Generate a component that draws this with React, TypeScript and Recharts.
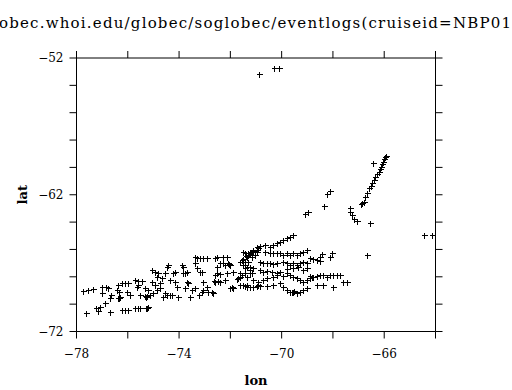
import { ScatterChart, Scatter, XAxis, YAxis } from 'recharts';

const title = 'obec.whoi.edu/globec/soglobec/eventlogs(cruiseid=NBP01';

const lonTicks = [-78, -76, -74, -72, -70, -68, -66, -64];
const lonLabels = [-78, -74, -70, -66];
const latTicks = [-72, -70, -68, -66, -64, -62, -60, -58, -56, -54, -52];
const latLabels = [-72, -62, -52];

// western part of the track, off the peninsula
const westGroup: [number, number][] = [
  [-77.73, -69.01], [-77.54, -68.96], [-77.37, -68.91], [-77.02, -68.76], [-76.85, -68.76],
  [-76.76, -68.83], [-77.63, -70.62], [-77.24, -70.30], [-77.15, -70.47], [-77.08, -70.18],
  [-76.89, -69.93], [-76.69, -69.57], [-76.65, -69.32], [-76.69, -70.55], [-76.41, -68.96],
  [-76.37, -68.59], [-77.02, -69.20], [-76.24, -70.42], [-76.11, -70.42], [-76.0, -70.42],
  [-75.72, -70.30], [-75.59, -70.30], [-75.52, -70.30], [-75.24, -70.30], [-75.20, -70.22],
  [-75.28, -70.26], [-76.33, -69.08], [-76.24, -68.47], [-76.11, -68.43], [-75.98, -68.43],
  [-76.37, -69.57], [-76.30, -69.49], [-76.34, -69.52], [-76.04, -69.08], [-75.91, -69.32],
  [-75.72, -68.23], [-75.61, -68.30], [-75.46, -68.30], [-75.65, -68.72], [-75.59, -68.59],
  [-75.33, -68.83], [-75.20, -68.96], [-75.52, -69.32], [-75.33, -69.40], [-75.24, -69.40],
  [-75.28, -69.45], [-75.13, -69.32], [-75.0, -69.20], [-75.07, -68.35], [-74.94, -68.59],
  [-74.87, -68.96], [-74.74, -68.83], [-75.07, -67.50], [-74.94, -67.62], [-74.81, -67.74],
  [-74.87, -67.99], [-74.68, -68.10], [-74.74, -68.47],
];

const centralGroup: [number, number][] = [
  [-74.55, -67.74], [-74.48, -67.26], [-74.42, -67.13], [-74.55, -69.20], [-74.48, -69.32],
  [-74.61, -69.45], [-74.35, -69.32], [-74.29, -69.32], [-74.23, -67.74], [-74.16, -67.62],
  [-74.35, -68.23], [-74.16, -68.35], [-74.09, -68.72], [-74.03, -69.45], [-73.90, -67.13],
  [-73.83, -67.26], [-73.83, -67.74], [-73.77, -67.74], [-73.70, -68.35], [-73.64, -68.43],
  [-73.77, -68.83], [-73.57, -69.49], [-73.70, -67.62], [-73.51, -68.96], [-73.38, -66.57],
  [-73.29, -66.64], [-73.18, -66.64], [-73.05, -66.64], [-72.92, -66.64], [-73.38, -67.01],
  [-73.31, -67.37], [-73.18, -67.62], [-73.12, -67.67], [-73.38, -68.83], [-73.21, -69.32],
  [-73.12, -69.08], [-73.05, -68.96], [-73.05, -68.35], [-72.92, -68.72], [-72.86, -69.08],
  [-72.73, -69.08], [-72.66, -69.20], [-72.60, -66.64], [-72.53, -66.57], [-72.53, -67.26],
  [-72.40, -67.01], [-72.27, -67.01], [-72.21, -67.13], [-72.60, -67.86], [-72.53, -67.74],
  [-72.40, -67.79], [-72.60, -68.35], [-72.47, -68.30], [-72.40, -68.35], [-72.21, -68.23],
  [-72.27, -66.57], [-72.14, -66.52], [-72.08, -67.01], [-72.01, -67.13], [-72.01, -68.83],
  [-71.95, -68.72], [-71.88, -68.83], [-72.14, -67.74], [-71.88, -67.62], [-71.75, -68.18],
  [-71.69, -68.10], [-71.62, -67.99], [-72.05, -67.05], [-72.65, -68.30],
];

const eastGroup: [number, number][] = [
  [-71.56, -66.77], [-71.49, -66.72], [-71.43, -66.89], [-71.43, -66.28], [-71.30, -66.28],
  [-71.17, -66.16], [-71.10, -66.04], [-70.97, -66.04], [-70.91, -65.91], [-71.36, -67.26],
  [-71.23, -67.26], [-71.10, -67.37], [-71.56, -67.86], [-71.43, -67.74], [-71.23, -67.74],
  [-71.49, -68.59], [-71.43, -68.67], [-71.36, -68.72], [-71.23, -68.72], [-70.97, -68.67],
  [-70.91, -68.59], [-71.49, -66.16], [-71.23, -66.16], [-71.10, -66.09], [-71.04, -66.40],
  [-71.17, -66.53], [-71.36, -66.53], [-71.62, -66.89], [-71.49, -67.13], [-71.30, -66.89],
  [-71.43, -67.37], [-71.23, -67.50], [-71.62, -67.74], [-71.17, -67.74],
  [-71.30, -66.40], [-71.25, -66.35], [-71.40, -66.45], [-70.95, -66.20],
  [-70.65, -66.16], [-70.45, -66.23], [-70.32, -66.28], [-70.19, -66.28], [-70.06, -66.28],
  [-69.93, -66.40], [-69.80, -66.28], [-69.67, -66.40], [-69.54, -66.28], [-69.41, -66.40],
  [-69.28, -66.28], [-69.15, -66.16], [-69.02, -66.04], [-68.89, -66.64], [-68.76, -66.72],
  [-68.63, -66.77], [-68.50, -66.82],
  [-70.84, -66.89], [-70.71, -67.01], [-70.58, -66.96], [-70.45, -67.01], [-70.32, -67.06],
  [-70.19, -66.96], [-69.93, -66.89], [-69.80, -67.01], [-69.67, -67.13], [-69.54, -67.01],
  [-69.41, -67.13], [-69.28, -67.01], [-69.15, -66.89], [-69.02, -67.01],
  [-70.84, -67.50], [-70.71, -67.62], [-70.58, -67.55], [-70.39, -67.62], [-70.19, -67.69],
  [-70.06, -67.62], [-69.80, -67.45], [-69.54, -67.37], [-69.35, -67.26], [-69.15, -67.50],
  [-69.02, -67.37],
  [-71.36, -67.99], [-71.10, -68.23], [-70.91, -68.35], [-70.71, -68.23], [-70.58, -68.10],
  [-70.32, -67.99], [-70.19, -67.86], [-69.93, -67.94], [-69.80, -67.74], [-69.67, -67.86],
  [-69.54, -67.99], [-69.41, -68.10], [-69.28, -68.23], [-69.15, -68.35], [-69.02, -68.23],
  [-68.89, -68.10], [-68.76, -67.99], [-68.63, -67.94], [-68.50, -67.86], [-68.37, -67.86],
  [-68.24, -67.99], [-68.11, -67.86], [-67.98, -67.86], [-67.85, -67.86], [-67.72, -67.86],
  [-67.59, -68.35], [-67.46, -68.35], [-71.62, -68.59], [-71.36, -68.59], [-71.10, -68.72],
  [-70.84, -68.67], [-70.58, -68.67], [-70.32, -68.59], [-70.06, -68.47], [-69.93, -68.72],
  [-69.80, -68.96], [-69.67, -69.08], [-69.54, -69.08], [-69.41, -69.20], [-69.28, -69.08],
  [-69.15, -68.96], [-69.02, -68.83], [-68.63, -68.59], [-68.37, -68.59], [-67.98, -68.72],
  [-69.60, -69.12], [-69.50, -69.02], [-68.90, -67.95], [-68.80, -68.05],
];

const northTransect: [number, number][] = [
  [-69.54, -64.94], [-69.67, -65.06], [-69.80, -65.18], [-69.93, -65.30], [-70.06, -65.43],
  [-70.19, -65.55], [-70.32, -65.67], [-70.45, -65.79], [-70.65, -65.67], [-70.84, -65.74],
  [-70.97, -65.79], [-68.05, -66.28], [-68.11, -66.53], [-68.44, -66.33], [-68.50, -66.53],
  [-66.68, -66.40],
];

// run up toward the South Shetlands
const shelfLine: [number, number][] = [
  [-66.86, -62.62], [-66.92, -62.66], [-66.80, -62.50], [-66.73, -62.14], [-66.68, -61.85],
  [-66.60, -61.52], [-66.53, -61.35], [-66.47, -61.16], [-66.40, -60.92], [-66.34, -60.68],
  [-66.27, -60.50], [-66.21, -60.31], [-66.16, -60.12], [-66.12, -59.95], [-66.08, -59.76],
  [-66.04, -59.58], [-65.99, -59.40], [-65.95, -59.26], [-65.92, -59.20],
  [-67.32, -62.99], [-67.34, -63.23], [-67.25, -63.47], [-67.16, -63.77], [-67.05, -63.91],
  [-66.54, -64.08],
];

const scattered: [number, number][] = [
  [-70.90, -53.19], [-70.31, -52.73], [-70.12, -52.71], [-70.10, -52.76], [-66.43, -59.70],
  [-68.10, -61.70], [-68.23, -61.96], [-68.36, -62.82], [-69.07, -63.40], [-68.98, -63.24],
  [-64.43, -64.92], [-64.13, -64.92],
];

const points = [...westGroup, ...centralGroup, ...eastGroup, ...northTransect, ...shelfLine, ...scattered].map(
  ([lon, lat]) => ({ lon, lat })
);

const serif = 'DejaVu Serif';
const minus = (v: number) => (v < 0 ? '\u2212' + Math.abs(v) : String(v));

const Plus = (props: any) => {
  const x = Math.round(props.cx) + 0.5;
  const y = Math.round(props.cy) + 0.5;
  return (
    <path
      d={`M${x - 3},${y}H${x + 3}M${x},${y - 3}V${y + 3}`}
      stroke="#000"
      strokeWidth={1}
      fill="none"
      shapeRendering="crispEdges"
    />
  );
};

const axisStyle = { stroke: '#000', strokeWidth: 1 };
const tickFont = { fill: '#000', fontSize: 12, fontFamily: serif };

export default function App() {
  return (
    <div style={{ position: 'absolute', left: 0, top: 0, width: 512, height: 390, background: '#fff', overflow: 'hidden' }}>
      <svg width={512} height={60} style={{ position: 'absolute', left: 0, top: 0 }}>
        <text x={-1} y={28} fontFamily={serif} fontSize={15} fill="#000" textLength={512} lengthAdjust="spacing">
          {title}
        </text>
      </svg>
      <ScatterChart width={512} height={390} margin={{ top: 0, right: 0, bottom: 0, left: 0 }}>
        <XAxis
          xAxisId="b"
          type="number"
          dataKey="lon"
          domain={[-78, -64]}
          ticks={lonTicks}
          interval={0}
          allowDataOverflow
          height={58.5}
          tickSize={7}
          tickMargin={11}
          axisLine={axisStyle}
          tickLine={axisStyle}
          tick={tickFont}
          tickFormatter={(v: number) => (lonLabels.includes(v) ? minus(v) : '')}
          label={{ value: 'lon', position: 'insideBottom', offset: 5, fill: '#000', fontFamily: serif, fontSize: 13, fontWeight: 'bold' }}
        />
        <XAxis
          xAxisId="t"
          orientation="top"
          type="number"
          dataKey="lon"
          domain={[-78, -64]}
          ticks={lonTicks}
          interval={0}
          allowDataOverflow
          height={58}
          tickSize={7}
          axisLine={axisStyle}
          tickLine={axisStyle}
          tickFormatter={() => ''}
        />
        <YAxis
          yAxisId="l"
          type="number"
          dataKey="lat"
          domain={[-72, -52]}
          ticks={latTicks}
          interval={0}
          allowDataOverflow
          width={76.5}
          tickSize={7}
          tickMargin={6}
          axisLine={axisStyle}
          tickLine={axisStyle}
          tick={tickFont}
          tickFormatter={(v: number) => (latLabels.includes(v) ? minus(v) : '')}
          label={{
            value: 'lat',
            angle: -90,
            position: 'insideLeft',
            offset: 22,
            fill: '#000',
            fontFamily: serif,
            fontSize: 13,
            fontWeight: 'bold',
            style: { textAnchor: 'middle' },
          }}
        />
        <YAxis
          yAxisId="r"
          orientation="right"
          type="number"
          dataKey="lat"
          domain={[-72, -52]}
          ticks={latTicks}
          interval={0}
          allowDataOverflow
          width={76.5}
          tickSize={7}
          axisLine={axisStyle}
          tickLine={axisStyle}
          tickFormatter={() => ''}
        />
        <Scatter data={points} xAxisId="b" yAxisId="l" shape={Plus} isAnimationActive={false} />
      </ScatterChart>
    </div>
  );
}
